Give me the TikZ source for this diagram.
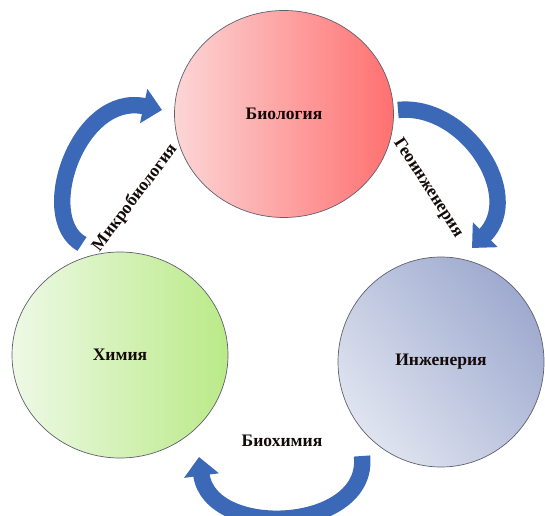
\documentclass[tikz,border=0pt]{standalone}
\usepackage{fontspec}
\setmainfont{Liberation Serif}
\usetikzlibrary{shapes.geometric,arrows.meta}
\definecolor{bioL}{RGB}{252,214,214}
\definecolor{bioR}{RGB}{255,112,112}
\definecolor{chemL}{RGB}{238,249,230}
\definecolor{chemR}{RGB}{186,234,136}
\definecolor{engD}{RGB}{158,170,207}
\definecolor{engL}{RGB}{224,228,240}
\definecolor{arrowblue}{RGB}{60,104,184}
\definecolor{rim}{RGB}{95,95,110}
\definecolor{ink}{RGB}{20,10,10}
\begin{document}
\begin{tikzpicture}[x=0.03cm,y=-0.03cm,
  disc/.style={ellipse,draw=rim,line width=0.6pt,inner sep=0pt,text=ink,
    font=\fontsize{15}{18}\selectfont\bfseries},
  lbl/.style={font=\fontsize{15}{18}\selectfont\bfseries,inner sep=0pt,text=ink},
  bigarrow/.style={draw=arrowblue,line width=14pt,-{Triangle[width=29pt,length=16pt]}}]
\useasboundingbox (0,0) rectangle (545,515);
\node[disc,minimum width=6.57cm,minimum height=6.21cm,left color=bioL,right color=bioR] (bio) at (284,114) {Биология};
\node[disc,minimum width=6.48cm,minimum height=6.18cm,left color=chemL,right color=chemR] (chem) at (120,355) {Химия};
\node[disc,minimum width=6.18cm,minimum height=6.3cm,top color=engD,bottom color=engL,shading angle=-50] (eng) at (441,362) {Инженерия};
% arrow end points
\coordinate (m1) at (82,244);
\coordinate (m2) at (162,110);
\coordinate (g1) at (398,110);
\coordinate (g2) at (472,248);
\coordinate (b1) at (362,456);
\coordinate (b2) at (199,457);
\draw[bigarrow] (m1) .. controls (35,218) and (78,92) .. (m2);
\draw[bigarrow] (g1) .. controls (465,103) and (525,195) .. (g2);
\draw[bigarrow] (b1) .. controls (370,532) and (210,540) .. (b2);
% labels
\node[lbl,rotate=53] (lm) at (135,198) {Микробиология};
\node[lbl,rotate=-57] (lg) at (428,188) {Геоинженерия};
\node[lbl] (lb) at (282,441) {Биохимия};
\end{tikzpicture}
\end{document}
